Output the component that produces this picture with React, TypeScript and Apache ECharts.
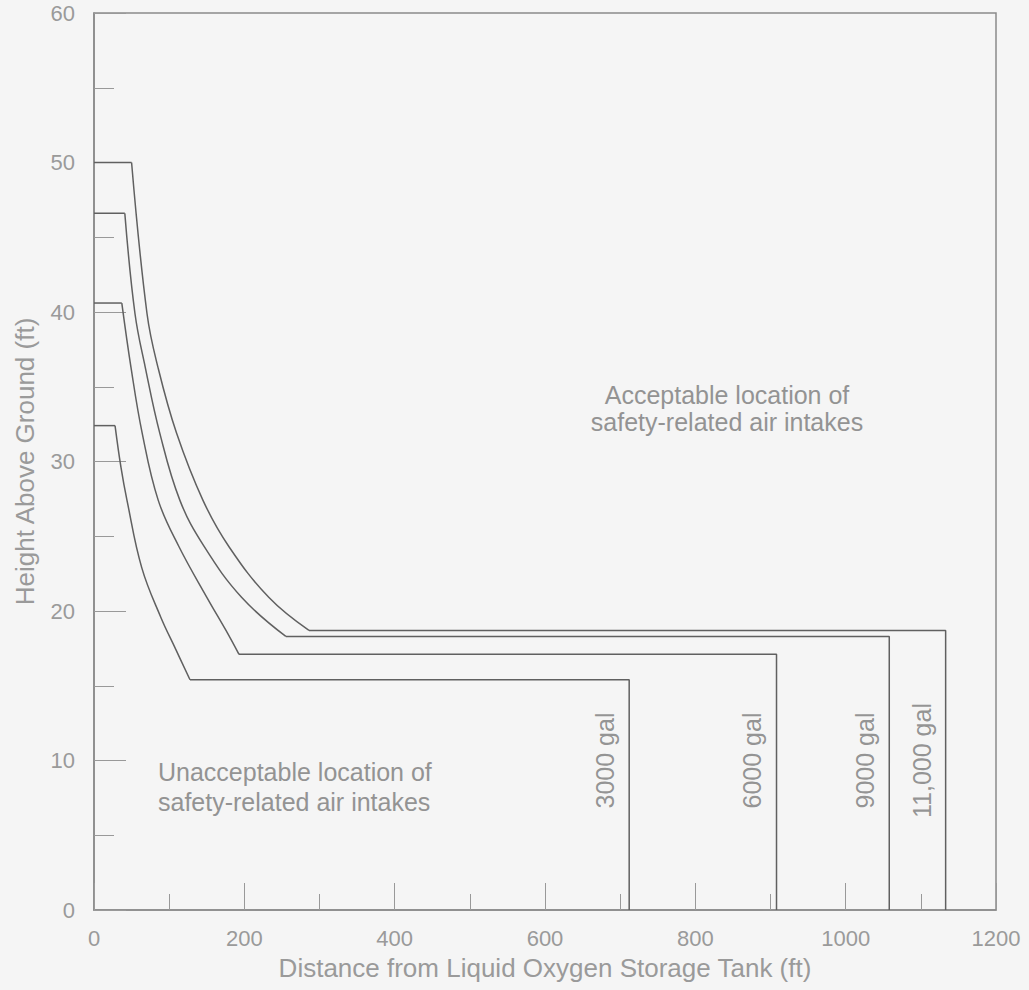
import React, { useEffect, useRef } from 'react';
import * as echarts from 'echarts';

// Tank sizes and read-off geometry of each limit curve (ft)
const tankLabels = ['3000 gal', '6000 gal', '9000 gal', '11,000 gal'];
const topHeights = [32.4, 40.6, 46.6, 50.0];
const topEnds = [28, 37, 41, 50];
const plateauHeights = [15.4, 17.1, 18.3, 18.7];
const plateauEnds = [712, 908, 1058, 1133];

const curve3000 = [[28, 32.4], [35.9, 29.6], [43.9, 27.4], [63.5, 22.9], [88.7, 19.6], [109.1, 17.4], [127.7, 15.4]];
const curve6000 = [[37, 40.6], [49.2, 36.3], [64.1, 31.9], [85.5, 27.4], [113.1, 24.3], [150.3, 20.9], [175.6, 18.7], [192.9, 17.1]];
const curve9000 = [[41, 46.6], [54.5, 39.9], [68.2, 36.3], [87.5, 31.9], [114.3, 27.4], [146.7, 24.3], [196.6, 20.9], [255.2, 18.3]];
const curve11000 = [[50, 50.0], [70.5, 39.9], [85.1, 36.3], [109.8, 31.9], [145.0, 27.4], [179.6, 24.3], [232.8, 20.9], [286.0, 18.7]];
const curves = [curve3000, curve6000, curve9000, curve11000];

const labelHeight = 10;
const labelOffsetFt = 32;

const FONT = '"Liberation Sans", Arial, Helvetica, sans-serif';
const LINE = '#606060';
const TEXT = '#9a9a9a';

export default function App() {
  const ref = useRef<HTMLDivElement>(null);
  useEffect(() => {
    document.body.style.margin = '0';
    document.body.style.background = '#f5f5f5';
    const chart = echarts.init(ref.current!, undefined, { renderer: 'svg' });
    const series: any[] = [];
    curves.forEach((c, i) => {
      series.push({
        type: 'line', data: [[0, topHeights[i]], [topEnds[i], topHeights[i]]],
        symbol: 'none', silent: true, lineStyle: { color: LINE, width: 1.5 },
      });
      series.push({
        type: 'line', data: c, smooth: 0.4, symbol: 'none', silent: true,
        lineStyle: { color: LINE, width: 1.5 },
      });
      const last = c[c.length - 1];
      series.push({
        type: 'line',
        data: [[last[0], plateauHeights[i]], [plateauEnds[i], plateauHeights[i]], [plateauEnds[i], 0]],
        symbol: 'none', silent: true, lineStyle: { color: LINE, width: 1.5 },
      });
    });
    series.push({
      type: 'scatter', symbolSize: 0, silent: true,
      data: tankLabels.map((t, i) => [plateauEnds[i] - labelOffsetFt, labelHeight, t]),
      label: {
        show: true, position: 'inside', rotate: 90,
        formatter: (p: any) => p.value[2],
        fontSize: 25, color: '#7a7a7a', fontFamily: FONT,
      },
    });
    chart.setOption({
      animation: false,
      backgroundColor: '#f5f5f5',
      grid: { left: 94, right: 33, top: 13, bottom: 80, show: true, borderColor: '#8a8a8a', borderWidth: 1.5 },
      xAxis: {
        type: 'value', min: 0, max: 1200, interval: 200,
        axisLine: { show: true, lineStyle: { color: '#8a8a8a', width: 1.5 } },
        axisTick: { show: true, inside: true, length: 27, lineStyle: { color: '#999' } },
        minorTick: { show: true, splitNumber: 2, length: 16, lineStyle: { color: '#999' } },
        splitLine: { show: false },
        axisLabel: { fontSize: 22, color: TEXT, margin: 17, fontFamily: FONT, formatter: (v: number) => String(v) },
        name: 'Distance from Liquid Oxygen Storage Tank (ft)', nameLocation: 'middle', nameGap: 45,
        nameTextStyle: { fontSize: 26, color: TEXT, fontFamily: FONT },
      },
      yAxis: {
        type: 'value', min: 0, max: 60, interval: 10,
        axisLine: { show: true, lineStyle: { color: '#8a8a8a', width: 1.5 } },
        axisTick: { show: true, inside: true, length: 32, lineStyle: { color: '#999' } },
        minorTick: { show: true, splitNumber: 2, length: 20, lineStyle: { color: '#999' } },
        splitLine: { show: false },
        axisLabel: { fontSize: 22, color: TEXT, margin: 19, fontFamily: FONT, formatter: (v: number) => String(v) },
        name: 'Height Above Ground (ft)', nameLocation: 'middle', nameGap: 56, nameRotate: 90,
        nameTextStyle: { fontSize: 26, color: TEXT, fontFamily: FONT },
      },
      graphic: [
        { type: 'text', x: 727, y: 395, style: { text: 'Acceptable location of', fill: '#939393', font: `25px ${FONT}`, align: 'center', verticalAlign: 'middle' } },
        { type: 'text', x: 727, y: 422, style: { text: 'safety-related air intakes', fill: '#939393', font: `25px ${FONT}`, align: 'center', verticalAlign: 'middle' } },
        { type: 'text', x: 158, y: 772, style: { text: 'Unacceptable location of', fill: '#939393', font: `25px ${FONT}`, align: 'left', verticalAlign: 'middle' } },
        { type: 'text', x: 158, y: 802, style: { text: 'safety-related air intakes', fill: '#939393', font: `25px ${FONT}`, align: 'left', verticalAlign: 'middle' } },
      ],
      series,
    });
    return () => chart.dispose();
  }, []);
  return <div ref={ref} style={{ width: 1029, height: 990 }} />;
}
